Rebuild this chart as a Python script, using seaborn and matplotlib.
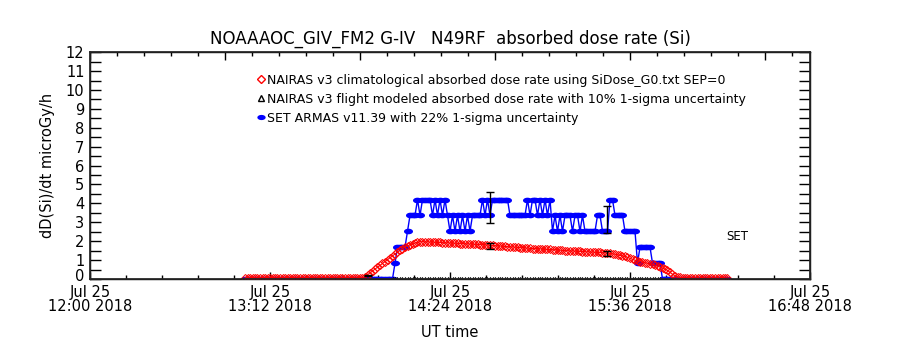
import numpy as np
import pandas as pd
import matplotlib
matplotlib.use("Agg")
import matplotlib.pyplot as plt
import matplotlib.transforms as mtransforms
from matplotlib.lines import Line2D
import seaborn as sns

# ---------------- data ----------------
title = "NOAAAOC_GIV_FM2 G-IV   N49RF  absorbed dose rate (Si)"
y_label = "dD(Si)/dt microGy/h"
x_label = "UT time"
legend_labels = [
    "NAIRAS v3 climatological absorbed dose rate using SiDose_G0.txt SEP=0",
    "NAIRAS v3 flight modeled absorbed dose rate with 10% 1-sigma uncertainty",
    "SET ARMAS v11.39 with 22% 1-sigma uncertainty",
]
tick_times = ["2018-07-25 12:00", "2018-07-25 13:12", "2018-07-25 14:24",
              "2018-07-25 15:36", "2018-07-25 16:48"]
tick_labels = ["Jul 25\n12:00 2018", "Jul 25\n13:12 2018", "Jul 25\n14:24 2018",
               "Jul 25\n15:36 2018", "Jul 25\n16:48 2018"]
y_ticks = [0, 1, 2, 3, 4, 5, 6, 7, 8, 9, 10, 11, 12]

# one sample per minute, starting 13:02 UT
series_start = "2018-07-25 13:02"

climatological = [
    0.06, 0.06, 0.06, 0.06, 0.06, 0.06, 0.06, 0.06, 0.06, 0.06, 0.06, 0.06,
    0.06, 0.06, 0.06, 0.06, 0.06, 0.06, 0.06, 0.06, 0.06, 0.06, 0.06, 0.06,
    0.06, 0.06, 0.06, 0.06, 0.06, 0.06, 0.06, 0.06, 0.06, 0.06, 0.06, 0.06,
    0.06, 0.06, 0.06, 0.06, 0.06, 0.06, 0.06, 0.06, 0.06, 0.06, 0.06, 0.06,
    0.12, 0.22, 0.32, 0.42, 0.52, 0.62, 0.72, 0.82, 0.92, 1.02, 1.12, 1.22,
    1.32, 1.42, 1.52, 1.61, 1.70, 1.75, 1.80, 1.85, 1.90, 1.94, 1.97,
    1.97, 1.96, 1.96, 1.95, 1.95, 1.94, 1.93, 1.93, 1.92, 1.91, 1.91, 1.90,
    1.89, 1.89, 1.88, 1.87, 1.87, 1.86, 1.85, 1.85, 1.84, 1.83, 1.83, 1.82,
    1.81, 1.80, 1.79, 1.78, 1.77, 1.76, 1.75, 1.74, 1.73, 1.72, 1.71, 1.70,
    1.69, 1.68, 1.67, 1.66, 1.65, 1.64, 1.63, 1.62,
    1.61, 1.60, 1.60, 1.59, 1.58, 1.57, 1.56, 1.56, 1.55, 1.54, 1.53, 1.52,
    1.51, 1.50,
    1.49, 1.48, 1.48, 1.47, 1.46, 1.46, 1.45, 1.44, 1.43, 1.43, 1.42, 1.41,
    1.40, 1.40, 1.39, 1.38, 1.37,
    1.35, 1.33, 1.31, 1.28, 1.25, 1.22, 1.19,
    1.14, 1.09, 1.04, 0.99, 0.95, 0.92,
    0.89, 0.86, 0.83, 0.80, 0.77, 0.73,
    0.68, 0.63, 0.58, 0.52, 0.45, 0.35, 0.25,
    0.17, 0.11, 0.08, 0.07, 0.06, 0.06, 0.06,
    0.05, 0.05, 0.05, 0.05, 0.05, 0.05, 0.05, 0.05, 0.05, 0.05, 0.05, 0.05,
    0.05, 0.05, 0.05,
]

armas = [
    0, 0, 0, 0, 0, 0, 0, 0, 0, 0, 0, 0, 0, 0, 0, 0, 0, 0, 0, 0,
    0, 0, 0, 0, 0, 0, 0, 0, 0, 0, 0, 0, 0, 0, 0, 0, 0, 0, 0, 0,
    0, 0, 0, 0, 0, 0, 0, 0, 0, 0, 0, 0, 0, 0, 0, 0, 0, 0, 0, 0,
    0.84, 1.68, 1.68, 1.68, 1.68, 2.52, 3.36,
    3.36, 3.36, 4.20, 3.36, 4.20, 4.20, 4.20, 4.20,
    3.36, 4.20, 3.36, 4.20, 3.36, 4.20, 3.36,
    2.52, 3.36, 2.52, 3.36, 2.52, 3.36, 2.52, 3.36, 2.52, 3.36,
    3.36, 3.36, 3.36,
    4.20, 3.36, 4.20, 3.36, 4.20,
    4.20, 4.20, 4.20, 4.20, 4.20, 4.20,
    3.36, 3.36, 3.36, 3.36, 3.36, 3.36, 3.36,
    4.20, 3.36, 4.20, 4.20, 3.36, 4.20, 3.36, 4.20, 3.36, 4.20,
    2.52, 3.36, 2.52, 3.36, 2.52, 3.36, 3.36, 3.36,
    2.52, 3.36, 3.36, 2.52, 3.36, 2.52, 2.52, 2.52, 2.52, 2.52,
    3.36, 3.36, 2.52, 2.52, 2.52,
    4.20, 4.20,
    3.36, 3.36, 3.36, 3.36,
    2.52, 2.52, 2.52, 2.52, 2.52,
    0.84, 1.68, 1.68, 1.68, 1.68, 1.68,
    0.84, 0.84, 0.84, 0.84,
    0, 0, 0, 0, 0, 0, 0, 0, 0, 0, 0, 0, 0, 0, 0, 0, 0, 0, 0, 0,
    0, 0, 0, 0, 0, 0, 0,
]

# flight-modelled NAIRAS values, one per minute from 14:01 UT
flight_start = "2018-07-25 14:01"
flight_modeled = [
    0, 0, 0, 0, 0, 0, 0, 0, 0, 0, 0, 0, 0, 0, 0, 0, 0, 0,
    0, 0, 0, 0, 0, 0, 0, 0, 0, 0, 0, 0, 0, 0, 0, 0, 0, 0,
    0, 0, 0, 0, 0, 0, 0, 0, 0, 0, 0, 0, 0, 0, 0, 0, 0, 0,
    0, 0, 0, 0, 0, 0, 0, 0, 0, 0, 0, 0, 0, 0, 0, 0, 0, 0,
    0, 0, 0, 0, 0, 0, 0, 0, 0, 0, 0, 0, 0, 0, 0, 0, 0, 0,
    0, 0, 0, 0, 0, 0, 0, 0, 0, 0, 0, 0, 0, 0, 0, 0, 0, 0,
]

# error bars
err_times = ["2018-07-25 13:51", "2018-07-25 14:40", "2018-07-25 14:40",
             "2018-07-25 15:27", "2018-07-25 15:27"]
err_values = [0.20, 3.78, 1.73, 3.14, 1.33]
err_sizes = [0.03, 0.83, 0.17, 0.71, 0.13]

# ---------------- frames ----------------
clim_df = pd.DataFrame({
    "time": pd.date_range(series_start, periods=len(climatological), freq="1min"),
    "dose": climatological})
armas_df = pd.DataFrame({
    "time": pd.date_range(series_start, periods=len(armas), freq="1min"),
    "dose": armas})
flight_df = pd.DataFrame({
    "time": pd.date_range(flight_start, periods=len(flight_modeled), freq="1min"),
    "dose": flight_modeled})

# ---------------- style ----------------
sns.set_theme(style="white")
plt.rcParams["font.family"] = ["DejaVu Sans"]
plt.rcParams["text.color"] = "black"
plt.rcParams["axes.labelcolor"] = "black"
plt.rcParams["xtick.color"] = "black"
plt.rcParams["ytick.color"] = "black"

fig = plt.figure(figsize=(9, 3.5), dpi=100)
ax = fig.add_axes([0.1, 0.203, 0.8, 0.648])

# ellipse marker for ARMAS
th = np.linspace(0, 2 * np.pi, 30)
ellipse = list(zip(1.6 * np.cos(th), np.sin(th)))

sns.lineplot(data=armas_df, x="time", y="dose", ax=ax, color="#0000ff",
             linewidth=1.0, marker=ellipse, markersize=6.5, markeredgewidth=0,
             markerfacecolor="#0000ff", estimator=None, sort=False, zorder=2)
sns.lineplot(data=clim_df, x="time", y="dose", ax=ax, color="#ff0000",
             linewidth=0.8, marker="D", markersize=4.5, markerfacecolor="none",
             markeredgecolor="#ff0000", markeredgewidth=0.7, estimator=None,
             sort=False, zorder=3)
sns.lineplot(data=flight_df, x="time", y="dose", ax=ax, color="black",
             linewidth=0.5, marker="^", markersize=3, markerfacecolor="none",
             markeredgecolor="black", markeredgewidth=0.6, estimator=None,
             sort=False, zorder=4)
ax.errorbar(pd.to_datetime(err_times), err_values, yerr=err_sizes, fmt="none",
            ecolor="black", elinewidth=1.0, capsize=3, capthick=1.0, zorder=5)

# axes limits / ticks
ax.set_xlim(pd.Timestamp(tick_times[0]), pd.Timestamp(tick_times[-1]))
ax.set_ylim(0, 12)
ax.set_xticks(pd.to_datetime(tick_times))
ax.set_xticklabels(tick_labels, fontsize=10.5, linespacing=0.95)
ax.set_xticks(pd.date_range(tick_times[0], tick_times[-1], freq="864s"), minor=True)
ax.set_yticks(y_ticks)
ax.set_yticklabels([str(v) for v in y_ticks], fontsize=10.5)
ax.set_yticks(np.arange(0, 12.01, 0.5), minor=True)
ax.tick_params(axis="x", which="major", direction="in", length=5, width=1,
               pad=4, bottom=True, top=False)
ax.tick_params(axis="x", which="minor", direction="in", length=3, width=1,
               bottom=True, top=False)
ax.tick_params(axis="y", which="both", direction="in", length=8, width=1,
               left=True, right=True, pad=4)
# lift the "0" label slightly off the date labels, as in the reference
zero_lbl = ax.get_yticklabels()[0]
zero_lbl.set_transform(zero_lbl.get_transform() +
                       mtransforms.ScaledTranslation(0, 2.5 / 72, fig.dpi_scale_trans))
for s in ax.spines.values():
    s.set_color("black")
    s.set_linewidth(1)

# top axis ticks (unlabelled, different spacing)
top = ax.twiny()
top.set_xlim(0, 16 / 3)
top.set_xticks(range(0, 6))
top.set_xticks(np.arange(0, 5.34, 0.2), minor=True)
top.set_xticklabels([])
top.tick_params(axis="x", which="major", direction="in", length=6, width=1, top=True)
top.tick_params(axis="x", which="minor", direction="in", length=3, width=1, top=True)
top.grid(False)

ax.set_xlabel(x_label, fontsize=10.5, labelpad=8)
ax.set_ylabel(y_label, fontsize=10.5, labelpad=8)
ax.set_title(title, fontsize=12, pad=6, color="black")
ax.grid(False)

ax.text(0.884, 0.185, "SET", transform=ax.transAxes, fontsize=8.5,
        ha="left", va="center")

handles = [
    Line2D([], [], linestyle="none", marker="D", markersize=4,
           markerfacecolor="none", markeredgecolor="#ff0000"),
    Line2D([], [], linestyle="none", marker="^", markersize=4,
           markerfacecolor="none", markeredgecolor="black"),
    Line2D([], [], linestyle="none", marker=ellipse, markersize=6,
           markerfacecolor="#0000ff", markeredgewidth=0),
]
ax.legend(handles, legend_labels, loc="upper left",
          bbox_to_anchor=(0.232, 0.905), frameon=False, fontsize=9,
          handlelength=0.6, handletextpad=0.2, labelspacing=0.48,
          borderpad=0, borderaxespad=0)

fig.savefig("out.png", dpi=100, facecolor="white")
